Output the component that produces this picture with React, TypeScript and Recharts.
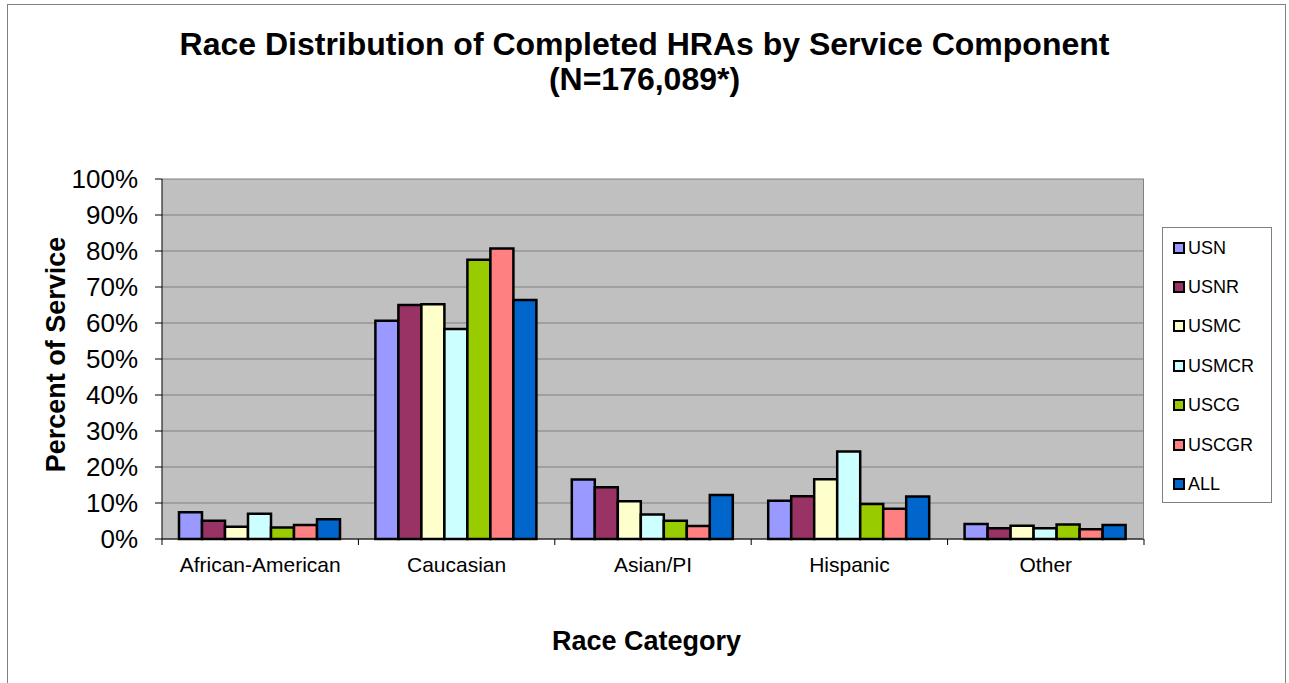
import React from "react";
import { BarChart, Bar, XAxis, YAxis, CartesianGrid } from "recharts";

const categories = ["African-American", "Caucasian", "Asian/PI", "Hispanic", "Other"];
const seriesNames = ["USN", "USNR", "USMC", "USMCR", "USCG", "USCGR", "ALL"];
const seriesColors = ["#9999FF", "#993366", "#FFFFCC", "#CCFFFF", "#99CC00", "#FF8080", "#0066CC"];

const USN = [7.4, 60.6, 16.5, 10.6, 4.2];
const USNR = [5.1, 65.0, 14.4, 11.9, 3.0];
const USMC = [3.4, 65.2, 10.5, 16.6, 3.7];
const USMCR = [7.0, 58.3, 6.8, 24.3, 3.0];
const USCG = [3.2, 77.6, 5.1, 9.7, 4.0];
const USCGR = [3.9, 80.7, 3.6, 8.4, 2.7];
const ALL = [5.5, 66.4, 12.2, 11.8, 3.9];

const yTicks = [0, 10, 20, 30, 40, 50, 60, 70, 80, 90, 100];

const seriesValues = [USN, USNR, USMC, USMCR, USCG, USCGR, ALL];

const data = categories.map((c, i) => {
  const row: Record<string, string | number> = { category: c };
  seriesNames.forEach((s, j) => {
    row[s] = seriesValues[j][i];
  });
  return row;
});

const W = 1289;
const H = 683;
const PLOT_LEFT = 162;
const PLOT_RIGHT = 1144;
const PLOT_TOP = 179;
const PLOT_BOTTOM = 539;
const Y_AXIS_W = 100;
const X_AXIS_H = 40;
const HALF_BAND = (PLOT_RIGHT - PLOT_LEFT) / categories.length / 2;
const FONT = '"Liberation Sans", Arial, Helvetica, sans-serif';

const YTick = (props: any) => {
  const { x, y, payload } = props;
  return (
    <text x={x} y={y} textAnchor="end" dominantBaseline="central" fontSize={26} fontFamily={FONT} fill="#000">
      {payload.value}%
    </text>
  );
};

const XTick = (props: any) => {
  const { x, y, payload, index } = props;
  const isLast = index === categories.length - 1;
  return (
    <g>
      <line x1={x - HALF_BAND} x2={x - HALF_BAND} y1={PLOT_BOTTOM} y2={PLOT_BOTTOM + 6} stroke="#000" strokeWidth={1} />
      {isLast && (
        <line x1={x + HALF_BAND} x2={x + HALF_BAND} y1={PLOT_BOTTOM} y2={PLOT_BOTTOM + 6} stroke="#000" strokeWidth={1} />
      )}
      <text x={x} y={y} dy="0.71em" textAnchor="middle" fontSize={21} fontFamily={FONT} fill="#000">
        {payload.value}
      </text>
    </g>
  );
};

export default function App() {
  return (
    <div style={{ position: "absolute", left: 0, top: 0, width: W, height: H, background: "#fff", fontFamily: FONT, overflow: "hidden" }}>
      <div style={{ position: "absolute", left: 7, top: 4, width: 1279, height: 720, border: "1px solid #808080", boxSizing: "border-box" }} />
      <BarChart
        width={W}
        height={H}
        data={data}
        margin={{ top: PLOT_TOP, right: W - PLOT_RIGHT, bottom: H - PLOT_BOTTOM - X_AXIS_H, left: PLOT_LEFT - Y_AXIS_W }}
        barCategoryGap={17}
        barGap={0}
      >
        <CartesianGrid vertical={false} fill="#C0C0C0" stroke="#808080" strokeWidth={1} />
        <XAxis
          dataKey="category"
          height={X_AXIS_H}
          axisLine={{ stroke: "#000", strokeWidth: 1 }}
          tickLine={false}
          tickSize={6}
          tickMargin={12}
          tick={<XTick />}
          interval={0}
        />
        <YAxis
          width={Y_AXIS_W}
          domain={[0, 100]}
          ticks={yTicks}
          interval={0}
          axisLine={{ stroke: "#000", strokeWidth: 1 }}
          tickLine={{ stroke: "#000", strokeWidth: 1 }}
          tickSize={7}
          tickMargin={17}
          tick={<YTick />}
        />
        {seriesNames.map((s, j) => (
          <Bar key={s} dataKey={s} fill={seriesColors[j]} stroke="#000" strokeWidth={2.5} isAnimationActive={false} />
        ))}
      </BarChart>
      {/* plot right border */}
      <div style={{ position: "absolute", left: PLOT_RIGHT - 1, top: PLOT_TOP, width: 1, height: PLOT_BOTTOM - PLOT_TOP, background: "#808080" }} />
      {/* title */}
      <div style={{ position: "absolute", left: 0, top: 27, width: W, textAlign: "center", fontSize: 32, lineHeight: "35px", fontWeight: "bold", color: "#000" }}>
        <div>Race Distribution of Completed HRAs by Service Component</div>
        <div>(N=176,089*)</div>
      </div>
      {/* x axis title */}
      <div style={{ position: "absolute", left: 0, top: 628, width: W + 4, textAlign: "center", fontSize: 27, lineHeight: "27px", fontWeight: "bold", color: "#000" }}>
        Race Category
      </div>
      {/* y axis title */}
      <div style={{ position: "absolute", left: 56 - 200, top: 354 - 13.5, width: 400, height: 27, textAlign: "center", fontSize: 27, lineHeight: "27px", fontWeight: "bold", color: "#000", transform: "rotate(-90deg)" }}>
        Percent of Service
      </div>
      {/* legend */}
      <div style={{ position: "absolute", left: 1162, top: 227, width: 110, height: 276, border: "1px solid #808080", boxSizing: "border-box", background: "#fff" }}>
        {seriesNames.map((s, j) => (
          <div key={s} style={{ height: 39.4, display: "flex", alignItems: "center" }}>
            <div style={{ width: 12, height: 12, marginLeft: 10, border: "2px solid #000", boxSizing: "border-box", background: seriesColors[j] }} />
            <div style={{ marginLeft: 3, fontSize: 18, lineHeight: "18px", color: "#000" }}>{s}</div>
          </div>
        ))}
      </div>
    </div>
  );
}
